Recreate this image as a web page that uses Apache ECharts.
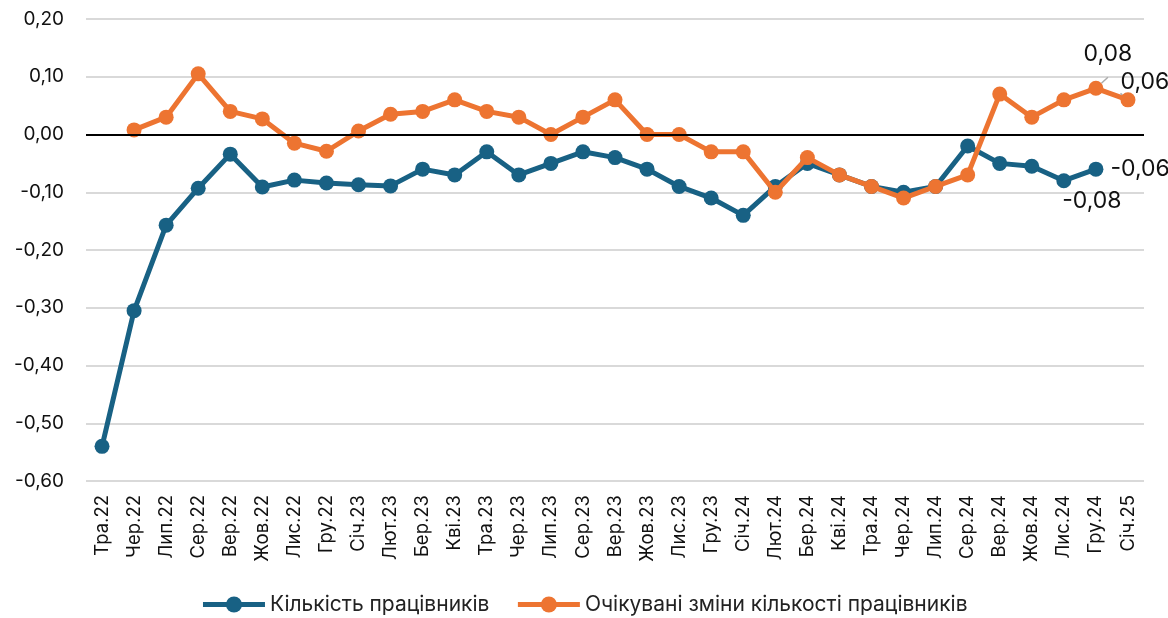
<!DOCTYPE html>
<html>
<head>
<meta charset="utf-8">
<script src="https://cdn.jsdelivr.net/npm/echarts@6/dist/echarts.min.js"></script>
<style>
  html, body { margin: 0; padding: 0; background: #fff; }
  #chart { width: 1168px; height: 618px; }
</style>
</head>
<body>
<div id="chart"></div>
<script>
// місяці
const months = ['Тра.22', 'Чер.22', 'Лип.22', 'Сер.22', 'Вер.22', 'Жов.22', 'Лис.22', 'Гру.22',
  'Січ.23', 'Лют.23', 'Бер.23', 'Кві.23', 'Тра.23', 'Чер.23', 'Лип.23', 'Сер.23', 'Вер.23',
  'Жов.23', 'Лис.23', 'Гру.23', 'Січ.24', 'Лют.24', 'Бер.24', 'Кві.24', 'Тра.24', 'Чер.24',
  'Лип.24', 'Сер.24', 'Вер.24', 'Жов.24', 'Лис.24', 'Гру.24', 'Січ.25']

// Кількість працівників
const staff = [-0.54, -0.305, -0.157, -0.093, -0.034, -0.091, -0.079, -0.084,
  -0.087, -0.089, -0.06, -0.07, -0.03, -0.07, -0.05, -0.03, -0.04,
  -0.06, -0.09, -0.11, -0.14, -0.09, -0.05, -0.07, -0.09, -0.10,
  -0.09, -0.02, -0.05, -0.055, -0.08, -0.06, null]

// Очікувані зміни кількості працівників
const expected = [null, 0.008, 0.03, 0.105, 0.04, 0.027, -0.015, -0.029,
  0.006, 0.035, 0.04, 0.06, 0.04, 0.03, 0.0, 0.03, 0.06,
  0.0, 0.0, -0.03, -0.03, -0.10, -0.04, -0.07, -0.09, -0.11,
  -0.09, -0.07, 0.07, 0.03, 0.06, 0.08, 0.06]

const yTicks = { min: -0.6, max: 0.2, step: 0.1 }

const FONT = 'Inter, "Noto Sans", sans-serif'
const fmt = v => v.toFixed(2).replace('.', ',')

// підписи лише для останніх точок
function withLabels(arr, labels) {
  return arr.map((v, i) => {
    if (labels[i]) return { value: v, label: Object.assign({ show: true, formatter: p => fmt(p.value) }, labels[i]) }
    return v
  })
}

const staffData = withLabels(staff, {
  30: { position: 'bottom', offset: [28, -4] },
  31: { position: 'right', offset: [2, 0] }
})
const expectedData = withLabels(expected, {
  31: { position: 'top', offset: [12, -10] },
  32: { position: 'right', offset: [-20, -18] }
})

const chart = echarts.init(document.getElementById('chart'))
chart.setOption({
  animation: false,
  textStyle: { fontFamily: FONT },
  grid: { left: 86, right: 24, top: 19, bottom: 137 },
  legend: {
    bottom: -2,
    left: 'center',
    itemWidth: 62,
    itemHeight: 20,
    itemGap: 26,
    lineStyle: { width: 5 },
    textStyle: { fontSize: 21, color: '#222', fontFamily: FONT },
    data: ['Кількість працівників', 'Очікувані зміни кількості працівників']
  },
  xAxis: {
    type: 'category',
    data: months,
    boundaryGap: true,
    axisLine: { show: false },
    axisTick: { show: false },
    axisLabel: { rotate: 90, fontSize: 18.5, color: '#111', margin: 14, interval: 0 }
  },
  yAxis: {
    type: 'value',
    min: yTicks.min,
    max: yTicks.max,
    interval: yTicks.step,
    axisLine: { show: false },
    axisTick: { show: false },
    splitLine: { lineStyle: { color: '#d9d9d9', width: 2 } },
    axisLabel: { fontSize: 19, color: '#111', margin: 22, formatter: v => fmt(v) }
  },
  series: [
    {
      name: 'Кількість працівників',
      type: 'line',
      data: staffData,
      color: '#186184',
      symbol: 'circle',
      symbolSize: 15,
      lineStyle: { width: 5 },
      label: { fontSize: 23, color: '#111' },
      markLine: {
        silent: true,
        symbol: 'none',
        label: { show: false },
        lineStyle: { color: '#000', width: 2, type: 'solid' },
        data: [{ yAxis: 0 }]
      },
      z: 3
    },
    {
      name: 'Очікувані зміни кількості працівників',
      type: 'line',
      data: expectedData,
      color: '#ed7431',
      symbol: 'circle',
      symbolSize: 15,
      lineStyle: { width: 5 },
      label: { fontSize: 23, color: '#111' },
      labelLine: { show: true, lineStyle: { color: '#aaa', width: 1.5 } },
      z: 4
    }
  ]
})
</script>
</body>
</html>
